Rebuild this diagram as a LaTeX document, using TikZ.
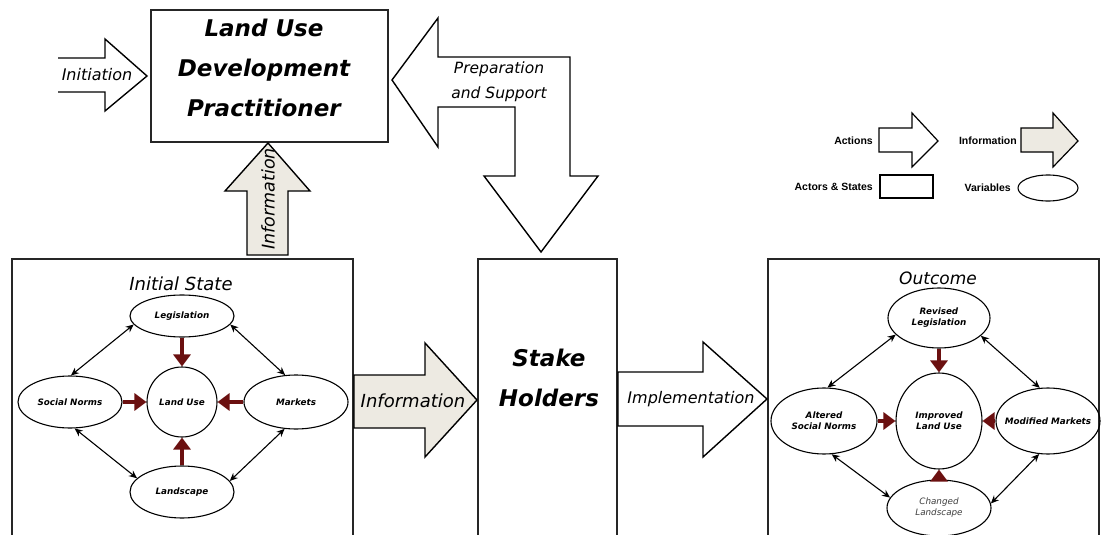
\documentclass[tikz,border=0pt]{standalone}
\usepackage{fontspec}
\setmainfont{DejaVu Sans}[ItalicFont={DejaVu Sans Oblique},BoldFont={DejaVu Sans Bold},BoldItalicFont={DejaVu Sans Bold Oblique}]
\newfontfamily\legfont{Liberation Sans}
\usetikzlibrary{shapes.geometric,arrows.meta}
\definecolor{infofill}{HTML}{EDEAE2}
\definecolor{redarrow}{HTML}{6B1010}
\tikzset{
  boxline/.style={draw=black!85,line width=1.6pt},
  blockarrow/.style={draw=black,line width=1.4pt,line join=miter,fill=white},
  infoarrow/.style={blockarrow,fill=infofill},
  bigtitle/.style={font={\fontsize{23}{40}\selectfont\bfseries\itshape},align=center,inner sep=0pt},
  arrowlabel/.style={font={\fontsize{#1}{#1}\selectfont\itshape},inner sep=0pt,align=center},
  vari/.style={ellipse,draw=black,line width=1.1pt,inner sep=0pt},
  varlabel/.style={font={\fontsize{8.8}{11}\selectfont\bfseries\itshape},inner sep=0pt,align=center},
  influence/.style={draw=redarrow,line width=3.6pt,-{Triangle[width=17pt,length=12pt]}},
  mutual/.style={draw=black,line width=1.1pt,{Stealth[length=8pt,width=7pt]}-{Stealth[length=8pt,width=7pt]}},
  legtext/.style={font={\legfont\fontsize{10.5}{12}\selectfont\bfseries},inner sep=0pt,anchor=east}
}
\begin{document}
\begin{tikzpicture}[x=1pt,y=-1pt]
\clip (0,0) rectangle (1101,535);
\fill[white] (0,0) rectangle (1101,535);

% ---- top box
\node[boxline,minimum width=237pt,minimum height=132pt,inner sep=0pt] (ldp) at (269.5,76) {};
\node[bigtitle] (ldpt) at (264,68) {Land Use\\Development\\Practitioner};

% Initiation arrow (open tail)
\draw[blockarrow] (58,58) -- (105,58) -- (105,39) -- (147,76) -- (105,111) -- (105,92) -- (58,92);
\node[arrowlabel=16] (init) at (97,75) {Initiation};

% Preparation and Support arrow
\draw[blockarrow] (392,80) -- (438,18) -- (438,57) -- (570,57) -- (570,176) -- (598,176)
  -- (541,252) -- (484,176) -- (515,176) -- (515,107) -- (438,107) -- (438,147) -- cycle;
\node[arrowlabel=15.5,font={\fontsize{15.5}{25}\selectfont\itshape}] (prep) at (499,82) {Preparation\\and Support};

% Information up arrow
\draw[infoarrow] (247,255) -- (247,191) -- (225,191) -- (268,143) -- (310,191) -- (288,191) -- (288,255) -- cycle;
\node[arrowlabel=17.5,rotate=90] (infoup) at (268,199) {Information};

% ---- bottom boxes
\draw[boxline] (12,545) -- (12,259) -- (353,259) -- (353,545);
\draw[boxline] (478,545) -- (478,259) -- (617,259) -- (617,545);
\draw[boxline] (768,545) -- (768,259) -- (1099,259) -- (1099,545);
\node[bigtitle] (stake) at (549,378) {Stake\\Holders};

% Information right arrow
\draw[infoarrow] (354,375) -- (425,375) -- (425,343) -- (477,400) -- (425,457) -- (425,428) -- (354,428) -- cycle;
\node[arrowlabel=18] (infor) at (413,401) {Information};

% Implementation arrow
\draw[blockarrow] (618,372) -- (703,372) -- (703,342) -- (767,399) -- (703,457) -- (703,426) -- (618,426) -- cycle;
\node[arrowlabel=16] (impl) at (691,399) {Implementation};

% ---- Initial State
\node[arrowlabel=18] (initst) at (181,284) {Initial State};
\node[vari,minimum width=104pt,minimum height=42pt] (leg) at (182,316) {};
\node[varlabel] at (leg) {Legislation};
\node[vari,minimum width=104pt,minimum height=52pt] (sn) at (70,402) {};
\node[varlabel] at (sn) {Social Norms};
\node[vari,minimum width=70pt,minimum height=70pt] (lu) at (182,402) {};
\node[varlabel] at (lu) {Land Use};
\node[vari,minimum width=104pt,minimum height=54pt] (mk) at (296,402) {};
\node[varlabel] at (mk) {Markets};
\node[vari,minimum width=104pt,minimum height=52pt] (ls) at (182,492) {};
\node[varlabel] at (ls) {Landscape};

\draw[influence] (leg.south) -- (lu.north);
\draw[influence] (sn.east) -- (lu.west);
\draw[influence] (mk.west) -- (lu.east);
\draw[influence] (ls.north) -- (lu.south);
\draw[mutual] (leg.190) -- (sn.88);
\draw[mutual] (leg.350) -- (mk.112);
\draw[mutual] (sn.280) -- (ls.163);
\draw[mutual] (mk.247) -- (ls.13);

% ---- Outcome
\node[arrowlabel=17] (outc) at (938,278) {Outcome};
\node[vari,minimum width=102pt,minimum height=60pt] (rl) at (939,318) {};
\node[varlabel] at (rl) {Revised\\Legislation};
\node[vari,minimum width=106pt,minimum height=66pt] (asn) at (824,421) {};
\node[varlabel] at (asn) {Altered\\Social Norms};
\node[vari,minimum width=86pt,minimum height=96pt] (ilu) at (939,421) {};
\node[varlabel] at (ilu) {Improved\\Land Use};
\node[vari,minimum width=104pt,minimum height=66pt] (mm) at (1048,421) {};
\node[varlabel] at (mm) {Modified Markets};
\node[vari,minimum width=104pt,minimum height=56pt] (cl) at (939,508) {};
\node[varlabel,font={\fontsize{8.8}{11}\selectfont\itshape},text=black!75] at (cl) {Changed\\Landscape};

\draw[influence] (rl.south) -- (ilu.north);
\draw[influence] (asn.east) -- (ilu.west);
\draw[influence] (mm.west) -- (ilu.east);
\draw[influence] (cl.north) -- (ilu.south);
\draw[mutual] (rl.201) -- (asn.84);
\draw[mutual] (rl.337) -- (mm.104);
\draw[mutual] (asn.283) -- (cl.168);
\draw[mutual] (mm.255) -- (cl.5);

% ---- Legend
\node[legtext] (lact) at (873,141) {Actions};
\draw[blockarrow,line width=1.2pt] (879,128) -- (912,128) -- (912,113) -- (938,141) -- (912,167) -- (912,152) -- (879,152) -- cycle;
\node[legtext] (linfo) at (1017,141) {Information};
\draw[infoarrow,line width=1.2pt] (1021,128) -- (1053,128) -- (1053,113) -- (1078,141) -- (1053,167) -- (1053,152) -- (1021,152) -- cycle;
\node[legtext] (lact2) at (873,187) {Actors \& States};
\node[draw=black,line width=1.2pt,minimum width=53pt,minimum height=23pt,inner sep=0pt] (lrect) at (906.5,186.5) {};
\node[legtext] (lvar) at (1011,188) {Variables};
\node[vari,minimum width=60pt,minimum height=26pt] (lell) at (1048,188) {};
\end{tikzpicture}
\end{document}
